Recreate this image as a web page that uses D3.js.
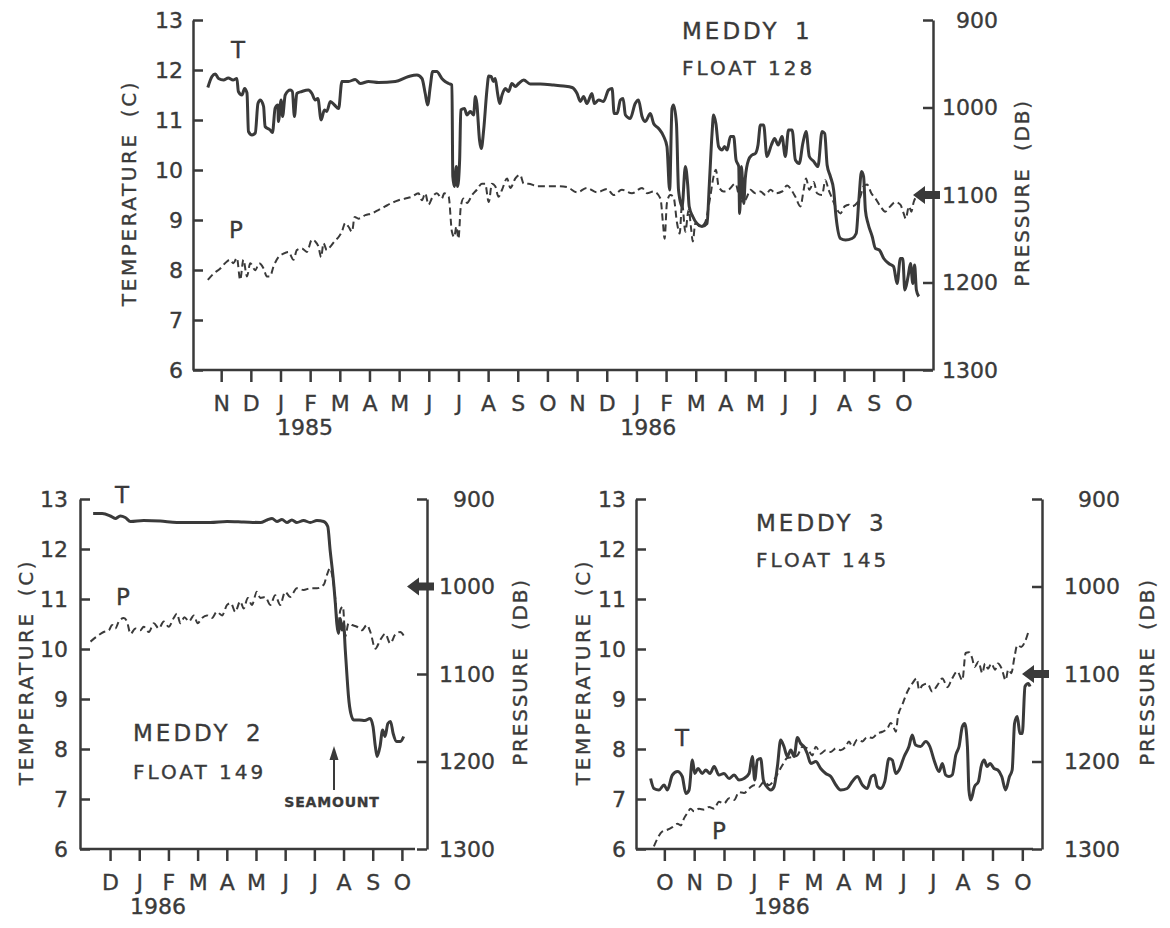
<!DOCTYPE html>
<html>
<head>
<meta charset="utf-8">
<script src="https://cdn.jsdelivr.net/npm/d3@7"></script>
<style>
body { margin: 0; background: #fff; }
svg text { font-family: "DejaVu Sans", sans-serif; fill: #3a3a3a; stroke: #3a3a3a; stroke-width: 0.35px; }
</style>
</head>
<body>
<svg id="chart" width="1170" height="928"></svg>
<script>
"use strict";
var ink = "#3a3a3a";

// axis ticks
var tempTicks = [6, 7, 8, 9, 10, 11, 12, 13];
var pressTicks = [900, 1000, 1100, 1200, 1300];
var monthsMeddy1 = ["N","D","J","F","M","A","M","J","J","A","S","O","N","D","J","F","M","A","M","J","J","A","S","O"];
var monthsMeddy2 = ["D","J","F","M","A","M","J","J","A","S","O"];
var monthsMeddy3 = ["O","N","D","J","F","M","A","M","J","J","A","S","O"];

// [month index, temperature C] - month index 0 = first labelled month
var meddy1Temp = [[-0.45,11.65],[-0.31,11.87],[-0.20,11.92],[-0.09,11.83],[0.08,11.8],[0.24,11.84],[0.40,11.8],[0.53,11.83],[0.58,11.57],[0.70,11.5],[0.79,11.63],[0.87,11.54],[0.92,10.77],[1.04,10.7],[1.15,10.74],[1.24,11.33],[1.32,11.4],[1.43,11.27],[1.48,10.87],[1.65,10.8],[1.73,10.75],[1.82,11.24],[1.91,11.3],[1.93,10.97],[2.02,11.4],[2.07,11.07],[2.16,11.5],[2.33,11.6],[2.40,11.57],[2.47,11.07],[2.55,11.53],[2.72,11.57],[2.94,11.6],[3.06,11.53],[3.17,11.4],[3.26,11.43],[3.37,11.0],[3.48,11.2],[3.56,11.17],[3.68,11.37],[3.82,11.3],[3.96,11.23],[4.07,11.77],[4.29,11.77],[4.52,11.81],[4.69,11.73],[4.97,11.77],[5.31,11.75],[5.87,11.77],[6.32,11.87],[6.60,11.9],[6.77,11.83],[6.88,11.53],[6.96,11.3],[7.05,11.67],[7.13,11.97],[7.27,11.97],[7.44,11.83],[7.55,11.77],[7.67,11.73],[7.78,11.7],[7.81,9.87],[7.86,9.67],[7.93,10.07],[7.97,9.67],[8.04,10.2],[8.08,11.2],[8.20,11.23],[8.29,11.1],[8.40,11.17],[8.51,11.1],[8.57,11.47],[8.62,11.33],[8.71,10.6],[8.77,10.43],[8.85,10.8],[8.96,11.6],[9.02,11.88],[9.10,11.87],[9.18,11.77],[9.24,11.83],[9.32,11.53],[9.39,11.33],[9.47,11.5],[9.58,11.63],[9.69,11.57],[9.80,11.73],[9.92,11.67],[10.03,11.73],[10.20,11.8],[10.42,11.72],[10.76,11.72],[11.21,11.7],[11.54,11.68],[11.83,11.65],[12.00,11.53],[12.11,11.37],[12.22,11.47],[12.33,11.33],[12.50,11.53],[12.58,11.33],[12.73,11.4],[12.89,11.37],[13.06,11.6],[13.18,11.63],[13.25,11.13],[13.35,11.13],[13.46,11.4],[13.55,11.43],[13.63,11.1],[13.79,11.03],[13.96,11.33],[14.07,11.4],[14.19,11.07],[14.30,10.97],[14.47,11.13],[14.58,10.93],[14.75,10.83],[14.92,10.67],[15.03,10.47],[15.12,9.6],[15.20,11.23],[15.25,11.3],[15.35,10.93],[15.42,9.6],[15.54,9.27],[15.65,10.07],[15.73,9.7],[15.78,9.27],[15.90,9.07],[16.04,8.93],[16.21,8.87],[16.38,8.93],[16.46,9.73],[16.55,10.73],[16.60,11.1],[16.68,10.93],[16.77,10.47],[16.89,10.4],[16.97,10.47],[17.06,10.4],[17.17,10.67],[17.28,10.67],[17.36,10.2],[17.45,10.07],[17.48,9.13],[17.54,10.07],[17.62,9.33],[17.67,9.83],[17.78,10.2],[17.90,10.3],[18.01,10.33],[18.10,10.5],[18.18,10.9],[18.29,10.9],[18.40,10.27],[18.55,10.5],[18.66,10.63],[18.78,10.5],[18.91,10.67],[19.02,10.27],[19.13,10.8],[19.25,10.8],[19.36,10.2],[19.49,10.13],[19.61,10.53],[19.72,10.77],[19.83,10.27],[19.98,10.17],[20.12,10.07],[20.26,10.77],[20.35,10.73],[20.43,10.1],[20.54,9.87],[20.65,9.6],[20.73,9.07],[20.88,8.63],[21.05,8.6],[21.27,8.63],[21.41,8.73],[21.50,9.4],[21.59,9.97],[21.66,9.87],[21.72,9.2],[21.81,8.93],[21.95,8.67],[22.06,8.43],[22.19,8.4],[22.34,8.23],[22.51,8.13],[22.67,8.07],[22.79,7.73],[22.90,8.23],[22.98,8.23],[23.05,7.6],[23.16,7.87],[23.24,8.13],[23.32,7.73],[23.38,8.1],[23.44,7.6],[23.52,7.47]];

// [month index, pressure db]
var meddy1Press = [[-0.45,1197],[-0.26,1190],[-0.03,1184],[0.13,1178],[0.30,1174],[0.41,1178],[0.53,1172],[0.64,1197],[0.75,1174],[0.87,1193],[0.98,1178],[1.15,1186],[1.28,1178],[1.43,1184],[1.54,1193],[1.65,1193],[1.76,1182],[1.93,1171],[2.10,1167],[2.27,1165],[2.44,1174],[2.55,1163],[2.72,1161],[2.89,1165],[3.06,1151],[3.17,1153],[3.28,1159],[3.37,1171],[3.45,1155],[3.56,1163],[3.68,1159],[3.82,1153],[3.96,1148],[4.07,1142],[4.18,1132],[4.29,1136],[4.41,1142],[4.50,1125],[4.63,1127],[4.86,1123],[5.08,1121],[5.31,1117],[5.53,1113],[5.76,1109],[5.98,1106],[6.21,1104],[6.43,1102],[6.65,1098],[6.77,1106],[6.88,1098],[6.99,1111],[7.13,1102],[7.27,1098],[7.44,1104],[7.52,1098],[7.67,1102],[7.78,1142],[7.86,1148],[7.93,1136],[8.00,1150],[8.08,1113],[8.17,1104],[8.29,1109],[8.46,1100],[8.62,1094],[8.79,1087],[8.90,1087],[9.02,1108],[9.13,1087],[9.24,1090],[9.35,1102],[9.47,1094],[9.64,1081],[9.75,1092],[9.92,1081],[10.08,1077],[10.20,1087],[10.36,1087],[10.65,1090],[10.98,1090],[11.32,1090],[11.66,1091],[12.00,1097],[12.33,1092],[12.67,1097],[13.01,1093],[13.23,1100],[13.51,1094],[13.85,1098],[14.19,1092],[14.36,1098],[14.58,1096],[14.81,1104],[14.90,1134],[14.95,1150],[15.03,1109],[15.14,1100],[15.25,1102],[15.37,1132],[15.46,1144],[15.54,1109],[15.65,1142],[15.76,1117],[15.85,1140],[15.90,1153],[15.99,1132],[16.16,1136],[16.32,1131],[16.49,1102],[16.60,1079],[16.68,1071],[16.77,1090],[16.94,1096],[17.11,1094],[17.34,1087],[17.50,1106],[17.62,1108],[17.73,1102],[17.84,1094],[18.01,1098],[18.18,1096],[18.35,1100],[18.52,1094],[18.69,1098],[18.91,1096],[19.08,1089],[19.22,1094],[19.36,1102],[19.53,1113],[19.64,1094],[19.72,1081],[19.83,1094],[19.98,1085],[20.09,1098],[20.26,1100],[20.37,1083],[20.48,1094],[20.60,1104],[20.71,1113],[20.88,1121],[21.02,1113],[21.16,1111],[21.27,1113],[21.44,1109],[21.55,1102],[21.66,1090],[21.78,1088],[21.92,1098],[22.06,1104],[22.23,1113],[22.39,1119],[22.56,1113],[22.73,1108],[22.90,1111],[23.01,1121],[23.08,1127],[23.19,1113],[23.27,1119],[23.35,1108],[23.43,1102]];

var meddy2Temp = [[-0.58,12.71],[-0.27,12.71],[0.01,12.66],[0.18,12.61],[0.35,12.66],[0.52,12.63],[0.70,12.55],[1.15,12.57],[1.72,12.56],[2.29,12.53],[2.87,12.53],[3.43,12.53],[4.01,12.55],[4.58,12.54],[5.15,12.53],[5.38,12.58],[5.55,12.61],[5.72,12.55],[5.89,12.59],[6.06,12.53],[6.23,12.58],[6.40,12.53],[6.63,12.57],[6.86,12.53],[7.09,12.57],[7.32,12.55],[7.46,12.45],[7.54,11.98],[7.64,11.45],[7.72,10.91],[7.77,10.51],[7.83,10.31],[7.89,10.61],[7.95,10.38],[8.00,10.51],[8.06,9.98],[8.12,9.45],[8.17,9.05],[8.25,8.71],[8.35,8.58],[8.54,8.58],[8.73,8.57],[8.91,8.61],[9.01,8.45],[9.09,8.05],[9.15,7.85],[9.25,8.05],[9.34,8.38],[9.42,8.25],[9.52,8.51],[9.61,8.55],[9.70,8.31],[9.82,8.15],[9.95,8.15],[10.06,8.25]];

var meddy2Press = [[-0.67,1063],[-0.45,1057],[-0.22,1052],[-0.04,1050],[0.07,1044],[0.18,1048],[0.30,1040],[0.47,1036],[0.58,1040],[0.70,1054],[0.87,1048],[1.04,1050],[1.15,1046],[1.33,1052],[1.50,1042],[1.67,1048],[1.84,1040],[2.01,1046],[2.18,1036],[2.29,1031],[2.41,1042],[2.55,1035],[2.70,1040],[2.87,1033],[3.00,1042],[3.15,1036],[3.32,1033],[3.49,1036],[3.66,1029],[3.84,1033],[4.01,1021],[4.14,1019],[4.29,1029],[4.46,1017],[4.58,1025],[4.72,1013],[4.86,1021],[5.03,1006],[5.15,1013],[5.32,1012],[5.49,1021],[5.66,1010],[5.83,1021],[6.00,1006],[6.17,1012],[6.40,1002],[6.63,1004],[6.86,1002],[7.09,1002],[7.32,998],[7.43,987],[7.54,979],[7.61,987],[7.72,1015],[7.80,1050],[7.89,1027],[7.98,1023],[8.06,1057],[8.17,1042],[8.29,1044],[8.46,1046],[8.63,1050],[8.80,1044],[8.92,1052],[9.09,1071],[9.26,1061],[9.43,1054],[9.60,1065],[9.77,1055],[9.94,1052],[10.11,1059]];

var meddy3Temp = [[-0.46,7.41],[-0.35,7.21],[-0.18,7.18],[-0.01,7.28],[0.10,7.18],[0.27,7.48],[0.44,7.55],[0.60,7.45],[0.72,7.11],[0.83,7.18],[0.94,7.78],[1.02,7.51],[1.13,7.61],[1.27,7.51],[1.39,7.58],[1.53,7.51],[1.67,7.65],[1.83,7.48],[2.00,7.51],[2.17,7.41],[2.34,7.48],[2.50,7.38],[2.67,7.41],[2.84,7.51],[2.95,7.85],[3.03,7.38],[3.12,7.78],[3.23,7.81],[3.32,7.38],[3.43,7.25],[3.57,7.18],[3.68,7.25],[3.79,7.65],[3.90,8.18],[4.01,8.05],[4.12,7.85],[4.24,7.98],[4.35,7.85],[4.46,8.23],[4.57,8.11],[4.68,8.05],[4.79,7.91],[4.91,7.71],[5.08,7.75],[5.24,7.61],[5.41,7.51],[5.58,7.45],[5.75,7.28],[5.91,7.18],[6.13,7.21],[6.30,7.35],[6.47,7.45],[6.64,7.28],[6.80,7.21],[6.94,7.45],[7.05,7.48],[7.14,7.25],[7.25,7.21],[7.39,7.35],[7.53,7.81],[7.64,7.78],[7.76,7.51],[7.87,7.58],[8.04,7.85],[8.20,8.05],[8.31,8.28],[8.42,8.08],[8.59,8.05],[8.76,8.15],[8.90,8.05],[9.04,7.78],[9.21,7.55],[9.32,7.71],[9.43,7.48],[9.54,7.45],[9.65,7.48],[9.77,7.88],[9.88,8.05],[9.99,8.45],[10.07,8.51],[10.16,8.05],[10.21,7.18],[10.27,6.98],[10.40,7.25],[10.53,7.35],[10.62,7.65],[10.72,7.78],[10.82,7.65],[10.92,7.71],[11.05,7.61],[11.18,7.58],[11.31,7.45],[11.44,7.18],[11.57,7.45],[11.66,7.58],[11.74,8.51],[11.83,8.65],[11.92,8.31],[12.00,8.31],[12.09,9.25],[12.20,9.31],[12.26,9.25]];

var meddy3Press = [[-0.35,1297],[-0.23,1288],[-0.07,1280],[0.10,1278],[0.27,1275],[0.44,1271],[0.55,1273],[0.66,1265],[0.77,1259],[0.88,1254],[1.00,1257],[1.16,1254],[1.33,1255],[1.50,1252],[1.67,1254],[1.83,1246],[2.00,1248],[2.17,1242],[2.34,1244],[2.50,1235],[2.67,1236],[2.84,1231],[3.01,1227],[3.17,1229],[3.34,1223],[3.51,1227],[3.68,1221],[3.81,1213],[3.96,1204],[4.12,1196],[4.29,1195],[4.46,1193],[4.63,1183],[4.79,1185],[4.96,1193],[5.08,1183],[5.24,1191],[5.41,1187],[5.58,1189],[5.75,1185],[5.91,1187],[6.08,1183],[6.19,1177],[6.30,1183],[6.47,1175],[6.64,1177],[6.80,1172],[6.97,1173],[7.14,1168],[7.31,1166],[7.48,1162],[7.59,1156],[7.70,1162],[7.76,1166],[7.83,1149],[7.98,1135],[8.15,1120],[8.31,1111],[8.46,1105],[8.54,1118],[8.65,1113],[8.82,1111],[8.98,1120],[9.15,1113],[9.32,1105],[9.49,1115],[9.65,1105],[9.82,1097],[9.99,1107],[10.10,1076],[10.21,1075],[10.32,1082],[10.40,1092],[10.53,1086],[10.66,1099],[10.75,1088],[10.85,1094],[10.96,1088],[11.09,1095],[11.18,1088],[11.31,1094],[11.44,1107],[11.53,1095],[11.63,1099],[11.74,1080],[11.83,1067],[11.96,1069],[12.09,1063],[12.22,1050]];

var svg = d3.select("#chart");

var panels = [
  { left: 193, right: 933, axisEnd: 933, top: 20, bottom: 370, xDomain: [-0.95, 24.0],
    months: monthsMeddy1, temp: meddy1Temp, press: meddy1Press,
    years: [["1985", 2.83], ["1986", 14.4]], arrowAt: 1100,
    lPad: 10, rLab: 65, lTitle: -64, rTitle: 89,
    name: "MEDDY 1", flt: "FLOAT 128", nameXY: [682, 31], fltXY: [682, 68],
    tXY: [238, 50], pXY: [236, 230] },
  { left: 80, right: 427, axisEnd: 415, top: 499, bottom: 849, xDomain: [-1.03, 10.86],
    months: monthsMeddy2, temp: meddy2Temp, press: meddy2Press,
    years: [["1986", 1.64]], arrowAt: 1000,
    lPad: 12, rLab: 68, lTitle: -54, rTitle: 93,
    name: "MEDDY 2", flt: "FLOAT 149", nameXY: [133, 733], fltXY: [133, 772],
    tXY: [122, 495], pXY: [123, 597], seamount: [334, 802] },
  { left: 636, right: 1042, axisEnd: 1033, top: 499, bottom: 849, xDomain: [-0.95, 12.66],
    months: monthsMeddy3, temp: meddy3Temp, press: meddy3Press,
    years: [["1986", 3.94]], arrowAt: 1100,
    lPad: 10, rLab: 78, lTitle: -53, rTitle: 105,
    name: "MEDDY 3", flt: "FLOAT 145", nameXY: [756, 523], fltXY: [756, 560],
    tXY: [682, 738], pXY: [719, 831] }
];

function drawPanel(p) {
  var x = d3.scaleLinear().domain(p.xDomain).range([p.left, p.right]);
  var yT = d3.scaleLinear().domain([6, 13]).range([p.bottom, p.top]);
  var yP = d3.scaleLinear().domain([900, 1300]).range([p.top, p.bottom]);
  var g = svg.append("g");

  var leftAx = g.append("g").attr("transform", "translate(" + p.left + ",0)")
    .call(d3.axisLeft(yT).tickValues(tempTicks).tickFormat(d3.format("d"))
      .tickSizeInner(-10).tickSizeOuter(0).tickPadding(p.lPad));
  var rightAx = g.append("g").attr("transform", "translate(" + p.right + ",0)")
    .call(d3.axisRight(yP).tickValues(pressTicks).tickFormat(d3.format("d"))
      .tickSizeInner(-10).tickSizeOuter(0));
  rightAx.selectAll("text").attr("x", p.rLab).attr("text-anchor", "end");
  var bottomAx = g.append("g").attr("transform", "translate(0," + p.bottom + ")")
    .call(d3.axisBottom(x).tickValues(d3.range(p.months.length))
      .tickFormat(function(i) { return p.months[i]; })
      .tickSize(12).tickPadding(13));
  bottomAx.select(".domain").attr("d", "M" + p.left + ",0H" + p.axisEnd);

  [leftAx, rightAx, bottomAx].forEach(function(a) {
    a.attr("font-family", null).attr("font-size", null);
    a.selectAll("path, line").attr("stroke", ink).attr("stroke-width", 2.5);
    a.selectAll("text").style("font-size", "22px");
  });

  // year labels under the months
  g.selectAll(".year").data(p.years).enter().append("text")
    .attr("x", function(d) { return x(d[1]); })
    .attr("y", p.bottom + 57)
    .attr("text-anchor", "middle").attr("dominant-baseline", "central")
    .style("font-size", "22px")
    .text(function(d) { return d[0]; });

  // axis titles
  var midY = (p.top + p.bottom) / 2 - 2;
  g.append("text")
    .attr("transform", "translate(" + (p.left + p.lTitle) + "," + midY + ") rotate(-90)")
    .attr("text-anchor", "middle").attr("dominant-baseline", "central")
    .style("font-size", "20px").style("letter-spacing", "2.6px").style("word-spacing", "6px")
    .text("TEMPERATURE (C)");
  g.append("text")
    .attr("transform", "translate(" + (p.right + p.rTitle) + "," + midY + ") rotate(-90)")
    .attr("text-anchor", "middle").attr("dominant-baseline", "central")
    .style("font-size", "20px").style("letter-spacing", "1.8px").style("word-spacing", "8px")
    .text("PRESSURE (DB)");

  var lineT = d3.line().x(function(d) { return x(d[0]); }).y(function(d) { return yT(d[1]); })
    .curve(d3.curveMonotoneX);
  var lineP = d3.line().x(function(d) { return x(d[0]); }).y(function(d) { return yP(d[1]); })
    .curve(d3.curveMonotoneX);

  g.append("path").datum(p.press).attr("d", lineP)
    .attr("fill", "none").attr("stroke", ink).attr("stroke-width", 2)
    .attr("stroke-dasharray", "7,4");
  g.append("path").datum(p.temp).attr("d", lineT)
    .attr("fill", "none").attr("stroke", ink).attr("stroke-width", 3)
    .attr("stroke-linejoin", "round");

  // reference pressure arrow on the right axis
  var ay = yP(p.arrowAt), ax = p.right;
  g.append("path")
    .attr("d", "M" + (ax - 20) + "," + ay + "L" + (ax - 8) + "," + (ay - 9) + "V" + (ay - 4) +
      "H" + (ax + 7) + "V" + (ay + 4) + "H" + (ax - 8) + "V" + (ay + 9) + "Z")
    .attr("fill", ink);

  // labels
  g.append("text").attr("x", p.tXY[0]).attr("y", p.tXY[1])
    .attr("text-anchor", "middle").attr("dominant-baseline", "central")
    .style("font-size", "23px").text("T");
  g.append("text").attr("x", p.pXY[0]).attr("y", p.pXY[1])
    .attr("text-anchor", "middle").attr("dominant-baseline", "central")
    .style("font-size", "23px").text("P");
  g.append("text").attr("x", p.nameXY[0]).attr("y", p.nameXY[1])
    .attr("dominant-baseline", "central")
    .style("font-size", "23px").style("letter-spacing", "3px").style("word-spacing", "5px")
    .text(p.name);
  g.append("text").attr("x", p.fltXY[0]).attr("y", p.fltXY[1])
    .attr("dominant-baseline", "central")
    .style("font-size", "20px").style("letter-spacing", "3px")
    .text(p.flt);

  if (p.seamount) {
    var sx = p.seamount[0], sy = p.seamount[1];
    g.append("line").attr("x1", sx).attr("x2", sx).attr("y1", sy - 12).attr("y2", sy - 48)
      .attr("stroke", ink).attr("stroke-width", 2);
    g.append("path")
      .attr("d", "M" + sx + "," + (sy - 56) + "L" + (sx - 4.5) + "," + (sy - 42) + "L" + (sx + 4.5) + "," + (sy - 42) + "Z")
      .attr("fill", ink);
    g.append("text").attr("x", sx - 2).attr("y", sy)
      .attr("text-anchor", "middle").attr("dominant-baseline", "central")
      .style("font-size", "14px").style("font-weight", "bold").style("letter-spacing", "0.8px")
      .text("SEAMOUNT");
  }
}

panels.forEach(drawPanel);
</script>
</body>
</html>
